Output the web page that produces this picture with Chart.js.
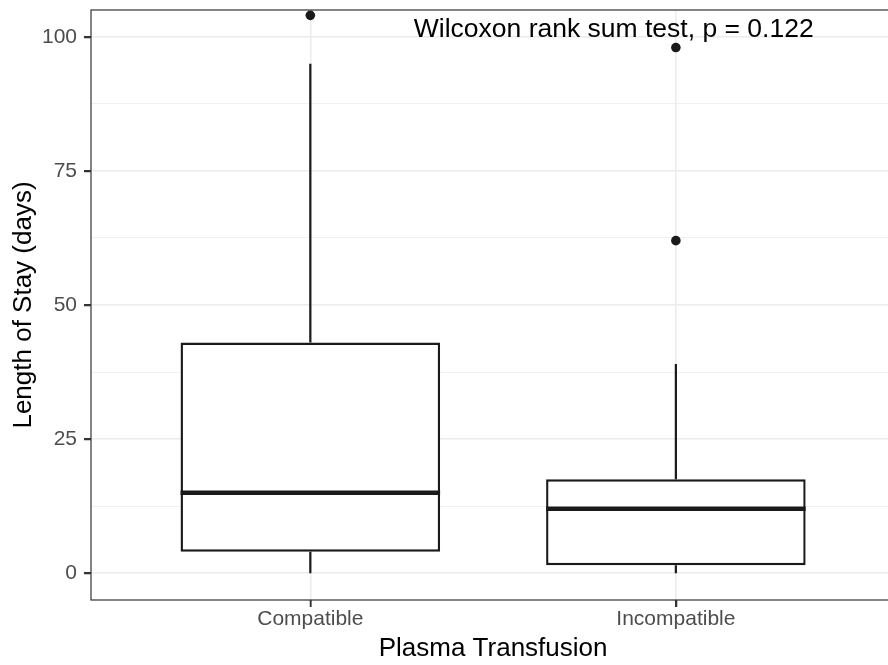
<!DOCTYPE html>
<html>
<head>
<meta charset="utf-8">
<script src="https://cdn.jsdelivr.net/npm/chart.js@4.4.1/dist/chart.umd.min.js"></script>
<style>
  html, body { margin: 0; padding: 0; background: #fff; overflow: hidden; }
  #wrap { width: 900px; height: 665px; }
</style>
</head>
<body>
<div id="wrap"><canvas id="myChart" width="900" height="665"></canvas></div>
<script>
const categories = ['Compatible', 'Incompatible'];
const lowerWhisker = [0, 0];
const q1 = [4, 1.5];
const median = [15, 12];
const q3 = [43, 17.5];
const upperWhisker = [95, 39];

const outlierGroup = ['Compatible', 'Incompatible', 'Incompatible'];
const outlierValues = [104, 98, 62];

const yTickLabels = [0, 25, 50, 75, 100];
const yGridValues = [0, 12.5, 25, 37.5, 50, 62.5, 75, 87.5, 100];

const annotationText = 'Wilcoxon rank sum test, p = 0.122';
const annotationPos = [1.83, 100];

const FONT = '"Liberation Sans", Arial, Helvetica, sans-serif';
const INK = '#1a1a1a';
const TICK_LEN = 7;

const isMajor = (v) => yTickLabels.includes(v);

// whiskers, medians, panel border, tick marks and the test label
const boxExtras = {
  id: 'boxExtras',
  afterDatasetsDraw(chart) {
    const { ctx, scales: { x, y } } = chart;
    ctx.save();
    ctx.strokeStyle = INK;
    ctx.lineCap = 'butt';
    categories.forEach((c, i) => {
      const px = x.getPixelForValue(i + 1);
      ctx.lineWidth = 2.2;
      ctx.beginPath();
      ctx.moveTo(px, y.getPixelForValue(q3[i]));
      ctx.lineTo(px, y.getPixelForValue(upperWhisker[i]));
      ctx.moveTo(px, y.getPixelForValue(q1[i]));
      ctx.lineTo(px, y.getPixelForValue(lowerWhisker[i]));
      ctx.stroke();

      const bar = chart.getDatasetMeta(0).data[i];
      const half = bar.width / 2;
      ctx.lineWidth = 4.4;
      ctx.beginPath();
      ctx.moveTo(bar.x - half, y.getPixelForValue(median[i]));
      ctx.lineTo(bar.x + half, y.getPixelForValue(median[i]));
      ctx.stroke();
    });
    ctx.restore();
  },
  afterDraw(chart) {
    const { ctx, scales: { x, y }, chartArea: a } = chart;
    ctx.save();
    ctx.strokeStyle = '#333333';
    ctx.lineWidth = 1.2;
    ctx.strokeRect(a.left, a.top, a.right - a.left, a.bottom - a.top);

    ctx.lineWidth = 1.5;
    ctx.beginPath();
    yTickLabels.forEach(v => {
      const py = Math.round(y.getPixelForValue(v)) + 0.5;
      ctx.moveTo(a.left - TICK_LEN, py);
      ctx.lineTo(a.left, py);
    });
    categories.forEach((c, i) => {
      const px = Math.round(x.getPixelForValue(i + 1)) + 0.5;
      ctx.moveTo(px, a.bottom);
      ctx.lineTo(px, a.bottom + TICK_LEN);
    });
    ctx.stroke();

    ctx.fillStyle = '#000';
    ctx.font = '26.5px ' + FONT;
    ctx.textAlign = 'center';
    ctx.textBaseline = 'alphabetic';
    ctx.fillText(annotationText, x.getPixelForValue(annotationPos[0]), y.getPixelForValue(annotationPos[1]));
    ctx.restore();
  }
};

const myChart = new Chart(document.getElementById('myChart'), {
  type: 'bar',
  data: {
    datasets: [{
      label: 'box',
      data: categories.map((c, i) => ({ x: i + 1, y: [q1[i], q3[i]] })),
      backgroundColor: '#ffffff',
      borderColor: INK,
      borderWidth: 2.4,
      borderSkipped: false,
      categoryPercentage: 1,
      barPercentage: 0.71
    }, {
      type: 'scatter',
      label: 'outliers',
      data: outlierGroup.map((g, i) => ({ x: categories.indexOf(g) + 1, y: outlierValues[i] })),
      backgroundColor: INK,
      borderColor: INK,
      pointRadius: 4.8,
      borderWidth: 0
    }]
  },
  options: {
    responsive: false,
    animation: false,
    devicePixelRatio: 1,
    layout: { padding: { top: 10, right: 0, left: 0, bottom: 0 } },
    plugins: { legend: { display: false }, tooltip: { enabled: false } },
    scales: {
      x: {
        type: 'linear',
        min: 0.4,
        max: 2.6,
        offset: false,
        afterBuildTicks: (scale) => { scale.ticks = categories.map((c, i) => ({ value: i + 1 })); },
        afterFit: (scale) => { scale.height = 65; scale.paddingLeft = 0; scale.paddingRight = 0; },
        border: { display: false },
        grid: { offset: false, color: '#EBEBEB', lineWidth: 1.5, tickColor: '#333333', tickWidth: 1.5, tickLength: TICK_LEN },
        ticks: {
          padding: 0,
          color: '#4D4D4D',
          font: { family: FONT, size: 21 },
          callback: (v) => categories[v - 1]
        },
        title: {
          display: true,
          text: 'Plasma Transfusion',
          color: '#000',
          font: { family: FONT, size: 26 },
          padding: { top: 0, bottom: 1 }
        }
      },
      y: {
        min: -5,
        max: 105,
        afterBuildTicks: (scale) => { scale.ticks = yGridValues.map(v => ({ value: v })); },
        afterFit: (scale) => { scale.width = 91; scale.paddingTop = 0; scale.paddingBottom = 0; },
        border: { display: false },
        grid: {
          color: '#EBEBEB',
          lineWidth: (c) => isMajor(c.tick.value) ? 1.5 : 0.75,
          tickColor: (c) => isMajor(c.tick.value) ? '#333333' : 'rgba(0,0,0,0)',
          tickWidth: 1.5,
          tickLength: TICK_LEN
        },
        ticks: {
          padding: 7,
          color: '#4D4D4D',
          font: { family: FONT, size: 21 },
          callback: (v) => isMajor(v) ? String(v) : ''
        },
        title: {
          display: true,
          text: 'Length of Stay (days)',
          color: '#000',
          font: { family: FONT, size: 26 },
          padding: { top: 8, bottom: 0 }
        }
      }
    }
  },
  plugins: [boxExtras]
});
</script>
</body>
</html>
